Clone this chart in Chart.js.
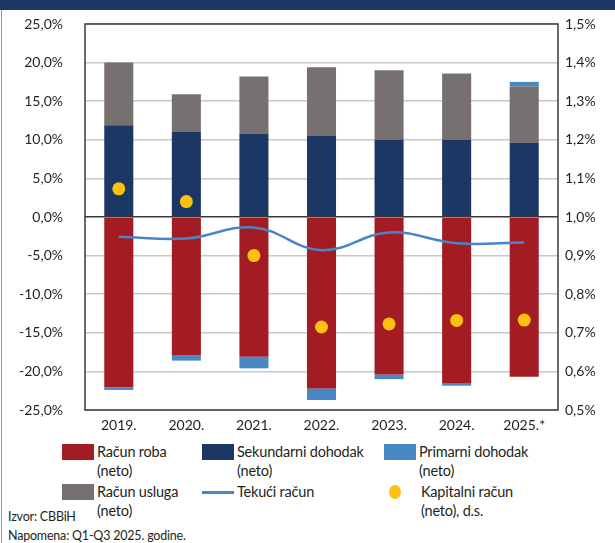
<!DOCTYPE html>
<html>
<head>
<meta charset="utf-8">
<script src="https://cdn.jsdelivr.net/npm/chart.js@4"></script>
<style>
  html, body { margin: 0; padding: 0; background: #fff; }
  #wrap { position: relative; width: 615px; height: 543px; overflow: hidden; font-family: Lato, "Open Sans", sans-serif; color: #231f20; }
  #band { position: absolute; left: 0; top: 0; width: 615px; height: 10px; background: #1c3763; }
  #lborder { position: absolute; left: 1px; top: 10px; width: 1px; height: 533px; background: #9a9a9a; }
  #c { position: absolute; left: 0; top: 0; }
  .lg { position: absolute; font-size: 14.5px; line-height: 19px; letter-spacing: -0.2px; }
  .sw { position: absolute; width: 32px; height: 16px; }
  .note { position: absolute; left: 8px; font-size: 12.5px; line-height: 17px; letter-spacing: -0.2px; }
</style>
</head>
<body>
<div id="wrap">
  <canvas id="c" width="615" height="440"></canvas>
  <div id="band"></div>
  <div id="lborder"></div>
  <div id="legend"></div>
  <div class="note" style="top:508px">Izvor: CBBiH</div>
  <div class="note" style="top:527px">Napomena: Q1-Q3 2025. godine.</div>
</div>
<script>
const years = ['2019.', '2020.', '2021.', '2022.', '2023.', '2024.', '2025.*'];
const racunRoba = [-22.1, -17.9, -18.1, -22.2, -20.4, -21.5, -20.7];
const sekundarniDohodak = [11.9, 11.0, 10.8, 10.5, 10.0, 10.0, 9.6];
const racunUsluga = [8.1, 4.9, 7.4, 8.9, 9.0, 8.6, 7.3];
const primarniDohodak = [-0.3, -0.7, -1.5, -1.5, -0.6, -0.35, 0.6];
const tekuciRacun = [-2.55, -2.8, -1.35, -4.3, -2.0, -3.4, -3.3];
const kapitalniRacun = [1.073, 1.04, 0.90, 0.715, 0.723, 0.732, 0.733];
const leftTicks = [-25, -20, -15, -10, -5, 0, 5, 10, 15, 20, 25];
const rightTicks = [0.5, 0.6, 0.7, 0.8, 0.9, 1.0, 1.1, 1.2, 1.3, 1.4, 1.5];

const C_RED = '#a31c24', C_NAVY = '#1c3763', C_BLUE = '#4787c4', C_GREY = '#767170', C_LINE = '#4a86c5', C_GOLD = '#fdbf10';

const legendItems = [
  { type: 'box', color: C_RED, label: 'Račun roba<br>(neto)', x: 62, y: 444, tx: 97 },
  { type: 'box', color: C_NAVY, label: 'Sekundarni dohodak<br>(neto)', x: 202, y: 444, tx: 237 },
  { type: 'box', color: C_BLUE, label: 'Primarni dohodak<br>(neto)', x: 384, y: 444, tx: 419 },
  { type: 'box', color: C_GREY, label: 'Račun usluga<br>(neto)', x: 62, y: 484, tx: 97 },
  { type: 'line', color: C_LINE, label: 'Tekući račun', x: 202, y: 484, tx: 237 },
  { type: 'dot', color: C_GOLD, label: 'Kapitalni račun<br>(neto), d.s.', x: 389, y: 484, tx: 421 }
];
const lg = document.getElementById('legend');
legendItems.forEach(it => {
  const s = document.createElement('div');
  s.className = 'sw';
  if (it.type === 'box') {
    s.style.cssText = `left:${it.x}px;top:${it.y}px;background:${it.color}`;
  } else if (it.type === 'line') {
    s.style.cssText = `left:${it.x}px;top:${it.y + 7}px;height:3px;background:${it.color}`;
  } else {
    s.style.cssText = `left:${it.x}px;top:${it.y + 1}px;width:12px;height:14px;border-radius:50%;background:${it.color}`;
  }
  lg.appendChild(s);
  const t = document.createElement('div');
  t.className = 'lg';
  t.style.left = it.tx + 'px';
  t.style.top = (it.y - 2) + 'px';
  t.innerHTML = it.label;
  lg.appendChild(t);
});

const fmt = (v, d) => v.toFixed(d).replace('.', ',') + '%';

const framePlugin = {
  id: 'frame',
  beforeDatasetsDraw(chart) {
    const a = chart.chartArea, ctx = chart.ctx;
    ctx.save();
    ctx.strokeStyle = '#3a3a3a';
    ctx.lineWidth = 1.5;
    ctx.strokeRect(a.left, a.top, a.right - a.left, a.bottom - a.top);
    ctx.restore();
  }
};

new Chart(document.getElementById('c'), {
  type: 'bar',
  data: {
    labels: years,
    datasets: [
      { type: 'line', label: 'Kapitalni račun (neto), d.s.', data: kapitalniRacun, yAxisID: 'y2', showLine: false,
        pointRadius: 6.5, pointHoverRadius: 6.5, pointBackgroundColor: C_GOLD, pointBorderWidth: 0, borderColor: C_GOLD, backgroundColor: C_GOLD },
      { type: 'line', label: 'Tekući račun', data: tekuciRacun, yAxisID: 'y', stack: 'line', borderColor: C_LINE,
        borderWidth: 2.5, pointRadius: 0, tension: 0.4, fill: false },
      { label: 'Račun roba (neto)', data: racunRoba, backgroundColor: C_RED, yAxisID: 'y', stack: 's' },
      { label: 'Sekundarni dohodak (neto)', data: sekundarniDohodak, backgroundColor: C_NAVY, yAxisID: 'y', stack: 's' },
      { label: 'Račun usluga (neto)', data: racunUsluga, backgroundColor: C_GREY, yAxisID: 'y', stack: 's' },
      { label: 'Primarni dohodak (neto)', data: primarniDohodak, backgroundColor: C_BLUE, yAxisID: 'y', stack: 's' }
    ]
  },
  options: {
    responsive: false,
    animation: false,
    events: [],
    layout: { padding: { top: 24, bottom: 0, left: 0, right: 0 } },
    datasets: { bar: { barPercentage: 0.43, categoryPercentage: 1 } },
    plugins: { legend: { display: false }, tooltip: { enabled: false } },
    scales: {
      x: {
        stacked: true,
        offset: true,
        grid: { display: false, drawTicks: false },
        border: { display: false },
        ticks: { color: '#231f20', font: { family: 'Lato', size: 14 }, padding: 7, maxRotation: 0 },
        afterFit(s) { s.height = 30; }
      },
      y: {
        position: 'left',
        stacked: true,
        min: -25, max: 25,
        afterBuildTicks(s) { s.ticks = leftTicks.map(v => ({ value: v })); },
        grid: {
          drawTicks: false,
          color: c => (c.tick && c.tick.value === 0) ? '#3a3a3a' : '#c8c8c8',
          lineWidth: 1.5
        },
        border: { display: false },
        ticks: { color: '#231f20', font: { family: 'Lato', size: 14 }, padding: 22, callback: v => fmt(v, 1) },
        afterFit(s) { s.width = 85; s.paddingTop = 8; s.paddingBottom = 8; }
      },
      y2: {
        position: 'right',
        min: 0.5, max: 1.5,
        afterBuildTicks(s) { s.ticks = rightTicks.map(v => ({ value: v })); },
        grid: { display: false, drawTicks: false },
        border: { display: false },
        ticks: { color: '#231f20', font: { family: 'Lato', size: 14 }, padding: 7, callback: v => fmt(v, 1) },
        afterFit(s) { s.width = 57; s.paddingTop = 8; s.paddingBottom = 8; }
      }
    }
  },
  plugins: [framePlugin]
});
</script>
</body>
</html>
